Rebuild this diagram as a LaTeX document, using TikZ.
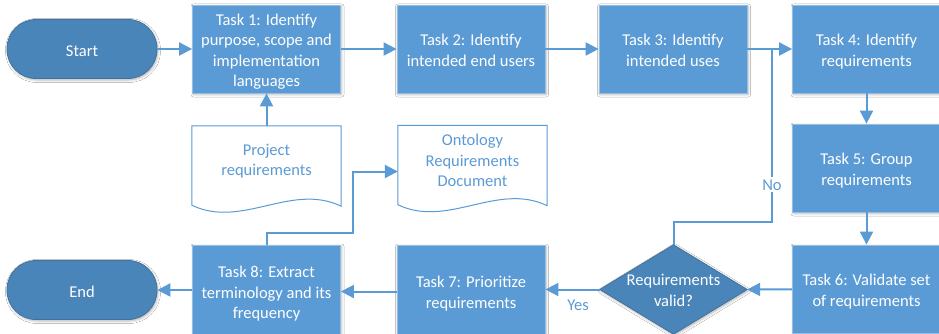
\documentclass[tikz,border=0pt]{standalone}
\usepackage{fontspec}
\setmainfont{Carlito}
\usetikzlibrary{arrows.meta,calc,backgrounds,shadows.blur}
\definecolor{taskblue}{HTML}{5B9BD5}
\definecolor{termblue}{HTML}{4A85BA}
\definecolor{termedge}{HTML}{41719C}
% centred lines in a tabular; a tall strut on the first row sets the
% text a little lower in its box
\newcommand\boxlines[2][20pt]{\begin{tabular}{@{}c@{}}\rule{0pt}{#1}#2\end{tabular}}
\begin{document}
\begin{tikzpicture}[x=1pt,y=-1pt,
  font=\fontsize{16.5}{20.5}\selectfont,
  softshadow/.style={blur shadow={shadow xshift=1pt, shadow yshift=-1.5pt,
      shadow blur radius=2.5pt, shadow opacity=30}},
  task/.style={rectangle, fill=taskblue, draw=taskblue!65!white, line width=0.8pt,
      text=white, minimum width=148pt, minimum height=88pt,
      inner sep=0pt, softshadow},
  term/.style={rectangle, rounded corners=29pt, fill=termblue, draw=termedge,
      line width=0.8pt, text=white, minimum width=150pt, minimum height=59pt,
      inner sep=0pt, softshadow, execute at begin node={\rule{0pt}{15pt}}},
  docbox/.style={rectangle, minimum width=149pt, minimum height=68pt,
      text=taskblue, align=center, inner sep=0pt},
  docline/.style={draw=taskblue, line width=1pt, fill=white},
  decbox/.style={rectangle, minimum width=147pt, minimum height=89pt,
      text=white, inner sep=0pt},
  wire/.style={draw=taskblue, line width=2pt},
  flow/.style={wire, -{Triangle[length=13pt,width=13pt]}},
  lbl/.style={text=taskblue, inner sep=2pt}]

\useasboundingbox (0,0) rectangle (939,334);

% process boxes and terminals
\node[term] (start) at (82,49) {Start};
\node[task] (t1) at (266.5,49) {\boxlines{Task 1: Identify\\purpose, scope and\\implementation\\languages}};
\node[task] (t2) at (471,49) {\boxlines{Task 2: Identify\\intended end users}};
\node[task] (t3) at (673,49) {\boxlines{Task 3: Identify\\intended uses}};
\node[task] (t4) at (866.5,49) {\boxlines{Task 4: Identify\\requirements}};
\node[task] (t5) at (866.5,168) {\boxlines{Task 5: Group\\requirements}};
\node[task] (t6) at (866.5,289) {\boxlines{Task 6: Validate set\\of requirements}};
\node[decbox] (dec) at (673.5,289.5) {\boxlines[19.5pt]{Requirements\\valid?}};
\node[task, minimum height=93pt] (t7) at (471,291.5) {\boxlines[19.5pt]{Task 7: Prioritize\\requirements}};
\node[task, minimum height=93pt] (t8) at (266.5,291.5) {\boxlines[19.5pt]{Task 8: Extract\\terminology and its\\frequency}};
\node[term] (end) at (82,290) {End};

% documents
\node[docbox] (preq) at (266.5,161) {Project\\requirements};
\node[docbox] (ord) at (472.5,160.5) {Ontology\\Requirements\\Document};
\begin{scope}[on background layer]
  \fill[white] (0,0) rectangle (939,334);
  \path[fill=termblue, draw=termedge, line width=0.8pt, softshadow]
    (dec.north) -- (dec.east) -- (dec.south) -- (dec.west) -- cycle;
  \foreach \d in {preq,ord} {
    \path[docline] ($(\d.north west)+(0,-1)$) -- ($(\d.north east)+(0,-1)$)
      -- ($(\d.south east)+(0,11)$)
      .. controls +(-50,-24) and +(50,24) .. ($(\d.south west)+(0,10)$) -- cycle;
  }
\end{scope}

% connectors
\coordinate (join) at (772,49);
\draw[flow] (start) -- (t1);
\draw[flow] (t1) -- (t2);
\draw[flow] (t2) -- (t3);
\draw[flow] (t3) -- (t4);
\draw[flow] (t4) -- (t5);
\draw[flow] (t5) -- (t6);
\draw[flow] (t6) -- (dec.east);
\draw[flow] (dec.west) -- (t7.east |- dec.west) node[lbl, pos=0.4, below=7.5pt] {Yes};
\draw[flow] (t7.west |- t8.east) -- (t8.east);
\draw[flow] (t8.west |- end.east) -- (end.east);
\draw[flow] ($(preq.north)+(0,-1)$) -- (t1.south);
\draw[flow] (t8.north) -- ++(0,-12) -| ($(ord.west)+(-45,11)$) -- ($(ord.west)+(0,11)$);
\draw[wire] (dec.north) -- ++(0,-23) -| (join) node[lbl, pos=0.607, fill=white] {No};
\end{tikzpicture}
\end{document}
